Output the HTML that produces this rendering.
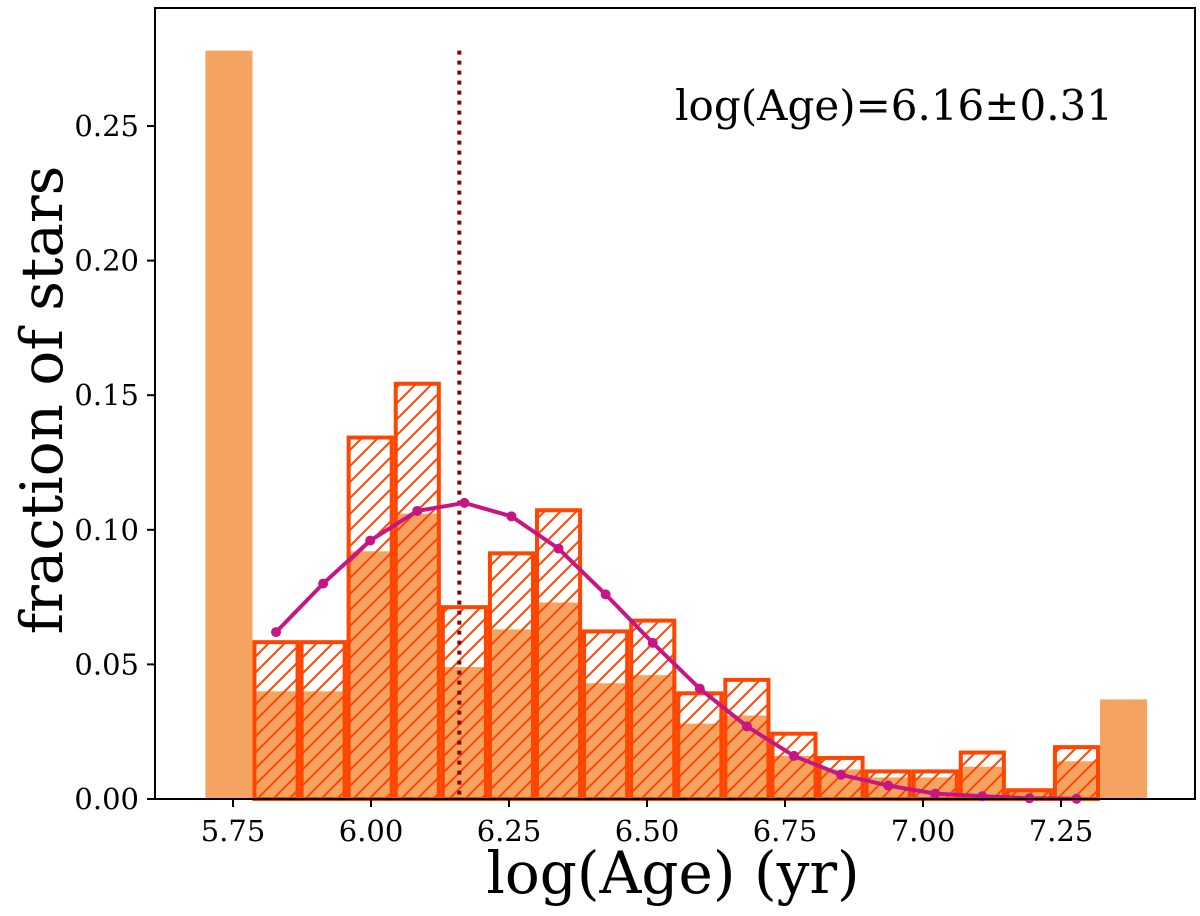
<!DOCTYPE html>
<html><head><meta charset="utf-8"><style>
body{margin:0;background:#fff}
svg text{font-family:"DejaVu Serif","Liberation Serif",serif}
</style></head><body>
<svg id="c" width="1200" height="911" xmlns="http://www.w3.org/2000/svg">
<defs>
<pattern id="hatch" patternUnits="userSpaceOnUse" width="16" height="16">
<path d="M-4,20 L20,-4 M-4,4 L4,-4 M12,20 L20,12" stroke="#ff4500" stroke-width="2"/>
</pattern>
</defs>
<g id="plot"></g>
</svg>
<script>
const binStart = 5.70, binWidth = 0.0853;
const orangeValues = [0.278,0.040,0.040,0.092,0.106,0.049,0.063,0.073,0.043,0.046,0.028,0.031,0.016,0.011,0.008,0.008,0.012,0.003,0.014,0.037];
const hatchedValues = [0.059,0.059,0.135,0.155,0.072,0.092,0.108,0.063,0.067,0.040,0.045,0.025,0.016,0.011,0.011,0.018,0.004,0.020];
const fitValues = [0.062,0.080,0.096,0.107,0.110,0.105,0.093,0.076,0.058,0.041,0.027,0.016,0.009,0.005,0.002,0.001,0.0003,0.0001];
const xTicks = [5.75,6.00,6.25,6.50,6.75,7.00,7.25];
const yTicks = [0.00,0.05,0.10,0.15,0.20,0.25];
const meanAge = 6.16;

const L=155,R=1195,T=8,B=799;
const px=v=>371+(v-6)*552;
const py=v=>B-v*2692;
const NS="http://www.w3.org/2000/svg";
const g=document.getElementById('plot');
function mk(tag,attrs){const e=document.createElementNS(NS,tag);for(const k in attrs)e.setAttribute(k,attrs[k]);g.appendChild(e);return e;}

orangeValues.forEach((v,i)=>{
  const x0=px(binStart+i*binWidth),x1=px(binStart+(i+1)*binWidth);
  const r=mk('rect',{x:x0,y:py(v),width:x1-x0,height:B-py(v),fill:'#f4a460'});
  
  
});
hatchedValues.forEach((v,i)=>{
  const x0=px(binStart+(i+1)*binWidth),x1=px(binStart+(i+2)*binWidth);
  const r=mk('rect',{x:x0+2,y:py(v)+2,width:x1-x0-4,height:B-py(v)-2,fill:'url(#hatch)',stroke:'#ff4500','stroke-width':4});
  
  
});
const dl=mk('line',{x1:px(meanAge),x2:px(meanAge),y1:py(0.278),y2:B,stroke:'#8b0000','stroke-width':4,'stroke-dasharray':'4,6'});



const pts=fitValues.map((v,i)=>[px(binStart+(i+1.5)*binWidth),py(v)]);
const pl=mk('polyline',{points:pts.map(p=>p.join(',')).join(' '),fill:'none',stroke:'#c71585','stroke-width':4});


pts.forEach((p,i)=>{
  const c=mk('circle',{cx:p[0],cy:p[1],r:5,fill:'#c71585'});
  
  
});

const fr=mk('rect',{x:L,y:T,width:R-L,height:B-T,fill:'none',stroke:'#000','stroke-width':2});



xTicks.forEach(v=>{
  const t=mk('line',{x1:px(v),x2:px(v),y1:B,y2:B+8,stroke:'#000','stroke-width':2});
  
  
  const tx=mk('text',{x:px(v),y:B+42,'text-anchor':'middle','font-size':29});
  tx.textContent=v.toFixed(2);
  
  
});
yTicks.forEach(v=>{
  const t=mk('line',{x1:L-8,x2:L,y1:py(v),y2:py(v),stroke:'#000','stroke-width':2});
  
  
  const tx=mk('text',{x:L-16,y:py(v)+10,'text-anchor':'end','font-size':29});
  tx.textContent=v.toFixed(2);
  
  
});
const xl=mk('text',{x:673,y:893,'text-anchor':'middle','font-size':58});
xl.textContent='log(Age) (yr)';


const yl=mk('text',{x:0,y:0,'text-anchor':'middle','font-size':58,transform:'translate(62,400) rotate(-90)'});
yl.textContent='fraction of stars';


const an=mk('text',{x:1113,y:120,'text-anchor':'end','font-size':42});
an.textContent='log(Age)=6.16±0.31';


</script>
</body></html>
